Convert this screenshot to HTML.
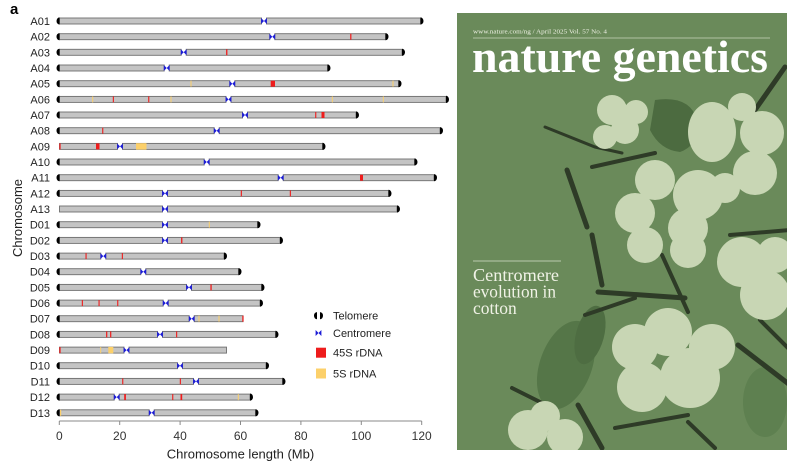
<!DOCTYPE html>
<html><head><meta charset="utf-8"><style>
html,body{margin:0;padding:0;background:#fff;}
svg{display:block;}
.lab{font-family:"Liberation Sans",sans-serif;font-size:11px;fill:#222;}
.tk{font-family:"Liberation Sans",sans-serif;font-size:12px;fill:#333;}
.b{fill:#c4c4c4;stroke:#6e6e6e;stroke-width:0.9;}
.r{fill:#ee1c1c;}
.y{fill:#fcd06a;}
.k{fill:#000;}
.c{fill:#1c1cd6;}
.serif{font-family:"Liberation Serif",serif;}
</style></head><body>
<svg width="800" height="470" viewBox="0 0 800 470" xmlns="http://www.w3.org/2000/svg">
<defs>
<path id="tl" d="M0,-3.6 A3,3.6 0 0 0 0,3.6 Z"/>
<path id="tr" d="M0,-3.6 A3,3.6 0 0 1 0,3.6 Z"/>
<path id="cen" d="M-2.9,-3 L0,0 L-2.9,3 Z M2.9,-3 L0,0 L2.9,3 Z"/>
</defs>
<rect width="800" height="470" fill="#fff"/>
<text x="10" y="14" style="font-family:'Liberation Sans',sans-serif;font-size:15px;font-weight:bold;fill:#000">a</text>
<text transform="translate(22,218) rotate(-90)" text-anchor="middle" style="font-family:'Liberation Sans',sans-serif;font-size:13px;fill:#222">Chromosome</text>

<!-- rows -->
<g transform="translate(0,21)"><text class="lab" x="50" y="4" text-anchor="end">A01</text>
<rect class="b" x="59.5" y="-3" width="202" height="6"/><rect class="b" x="266.5" y="-3" width="154" height="6"/>
<use href="#cen" x="264" class="c"/><use href="#tl" x="59.5" class="k"/><use href="#tr" x="420.5" class="k"/></g>

<g transform="translate(0,36.7)"><text class="lab" x="50" y="4" text-anchor="end">A02</text>
<rect class="b" x="59.5" y="-3" width="210.3" height="6"/><rect class="b" x="274.8" y="-3" width="110.7" height="6"/>
<rect class="r" x="350.2" y="-3" width="1.2" height="6"/>
<use href="#cen" x="272.3" class="c"/><use href="#tl" x="59.5" class="k"/><use href="#tr" x="385.5" class="k"/></g>

<g transform="translate(0,52.3)"><text class="lab" x="50" y="4" text-anchor="end">A03</text>
<rect class="b" x="59.5" y="-3" width="121.7" height="6"/><rect class="b" x="186.2" y="-3" width="215.8" height="6"/>
<rect class="r" x="226.1" y="-3" width="1.3" height="6"/>
<use href="#cen" x="183.7" class="c"/><use href="#tl" x="59.5" class="k"/><use href="#tr" x="402" class="k"/></g>

<g transform="translate(0,68)"><text class="lab" x="50" y="4" text-anchor="end">A04</text>
<rect class="b" x="59.5" y="-3" width="104.7" height="6"/><rect class="b" x="169.2" y="-3" width="158.3" height="6"/>
<use href="#cen" x="166.7" class="c"/><use href="#tl" x="59.5" class="k"/><use href="#tr" x="327.5" class="k"/></g>

<g transform="translate(0,83.7)"><text class="lab" x="50" y="4" text-anchor="end">A05</text>
<rect class="b" x="59.5" y="-3" width="170.3" height="6"/><rect class="b" x="234.8" y="-3" width="163.7" height="6"/>
<rect class="y" x="190.5" y="-3" width="1" height="6"/><rect class="r" x="270.7" y="-3" width="4.3" height="6"/><rect class="y" x="392.5" y="-3" width="1" height="6"/>
<use href="#cen" x="232.3" class="c"/><use href="#tl" x="59.5" class="k"/><use href="#tr" x="398.5" class="k"/></g>

<g transform="translate(0,99.4)"><text class="lab" x="50" y="4" text-anchor="end">A06</text>
<rect class="b" x="59.5" y="-3" width="166.5" height="6"/><rect class="b" x="231" y="-3" width="215" height="6"/>
<rect class="y" x="92.2" y="-3" width="1" height="6"/><rect class="r" x="112.8" y="-3" width="1.1" height="6"/><rect class="r" x="148.2" y="-3" width="1.1" height="6"/><rect class="y" x="170.5" y="-3" width="1" height="6"/><rect class="y" x="331.8" y="-3" width="1" height="6"/><rect class="y" x="382.8" y="-3" width="1" height="6"/>
<use href="#cen" x="228.5" class="c"/><use href="#tl" x="59.5" class="k"/><use href="#tr" x="446" class="k"/></g>

<g transform="translate(0,115)"><text class="lab" x="50" y="4" text-anchor="end">A07</text>
<rect class="b" x="59.5" y="-3" width="183" height="6"/><rect class="b" x="247.5" y="-3" width="108.5" height="6"/>
<rect class="r" x="315.2" y="-3" width="1.1" height="6"/><rect class="r" x="321.5" y="-3" width="3" height="6"/>
<use href="#cen" x="245" class="c"/><use href="#tl" x="59.5" class="k"/><use href="#tr" x="356" class="k"/></g>

<g transform="translate(0,130.7)"><text class="lab" x="50" y="4" text-anchor="end">A08</text>
<rect class="b" x="59.5" y="-3" width="154.7" height="6"/><rect class="b" x="219.2" y="-3" width="220.8" height="6"/>
<rect class="r" x="102.2" y="-3" width="1.1" height="6"/>
<use href="#cen" x="216.7" class="c"/><use href="#tl" x="59.5" class="k"/><use href="#tr" x="440" class="k"/></g>

<g transform="translate(0,146.4)"><text class="lab" x="50" y="4" text-anchor="end">A09</text>
<rect class="b" x="59.5" y="-3" width="58" height="6"/><rect class="b" x="122.5" y="-3" width="200" height="6"/>
<rect class="r" x="59.3" y="-3" width="1.3" height="6"/><rect class="r" x="96" y="-3" width="3.5" height="6"/><rect class="y" x="136" y="-3.2" width="10.5" height="6.4"/>
<use href="#cen" x="120" class="c"/><use href="#tr" x="322.5" class="k"/></g>

<g transform="translate(0,162)"><text class="lab" x="50" y="4" text-anchor="end">A10</text>
<rect class="b" x="59.5" y="-3" width="144.7" height="6"/><rect class="b" x="209.2" y="-3" width="205.3" height="6"/>
<use href="#cen" x="206.7" class="c"/><use href="#tl" x="59.5" class="k"/><use href="#tr" x="414.5" class="k"/></g>

<g transform="translate(0,177.7)"><text class="lab" x="50" y="4" text-anchor="end">A11</text>
<rect class="b" x="59.5" y="-3" width="218.7" height="6"/><rect class="b" x="283.2" y="-3" width="150.8" height="6"/>
<rect class="r" x="360" y="-3" width="3" height="6"/>
<use href="#cen" x="280.7" class="c"/><use href="#tl" x="59.5" class="k"/><use href="#tr" x="434" class="k"/></g>

<g transform="translate(0,193.4)"><text class="lab" x="50" y="4" text-anchor="end">A12</text>
<rect class="b" x="59.5" y="-3" width="103" height="6"/><rect class="b" x="167.5" y="-3" width="221" height="6"/>
<rect class="r" x="240.8" y="-3" width="1.1" height="6"/><rect class="r" x="289.8" y="-3" width="1.1" height="6"/>
<use href="#cen" x="165" class="c"/><use href="#tl" x="59.5" class="k"/><use href="#tr" x="388.5" class="k"/></g>

<g transform="translate(0,209)"><text class="lab" x="50" y="4" text-anchor="end">A13</text>
<rect class="b" x="59.5" y="-3" width="103" height="6"/><rect class="b" x="167.5" y="-3" width="229.5" height="6"/>
<use href="#cen" x="165" class="c"/><use href="#tr" x="397" class="k"/></g>

<g transform="translate(0,224.7)"><text class="lab" x="50" y="4" text-anchor="end">D01</text>
<rect class="b" x="59.5" y="-3" width="103" height="6"/><rect class="b" x="167.5" y="-3" width="90" height="6"/>
<rect class="y" x="208.8" y="-3" width="1" height="6"/>
<use href="#cen" x="165" class="c"/><use href="#tl" x="59.5" class="k"/><use href="#tr" x="257.5" class="k"/></g>

<g transform="translate(0,240.4)"><text class="lab" x="50" y="4" text-anchor="end">D02</text>
<rect class="b" x="59.5" y="-3" width="103" height="6"/><rect class="b" x="167.5" y="-3" width="112.5" height="6"/>
<rect class="r" x="181.1" y="-3" width="1.3" height="6"/>
<use href="#cen" x="165" class="c"/><use href="#tl" x="59.5" class="k"/><use href="#tr" x="280" class="k"/></g>

<g transform="translate(0,256.1)"><text class="lab" x="50" y="4" text-anchor="end">D03</text>
<rect class="b" x="59.5" y="-3" width="41.3" height="6"/><rect class="b" x="105.8" y="-3" width="118.2" height="6"/>
<rect class="r" x="85.5" y="-3" width="1.1" height="6"/><rect class="r" x="121.8" y="-3" width="1.1" height="6"/>
<use href="#cen" x="103.3" class="c"/><use href="#tl" x="59.5" class="k"/><use href="#tr" x="224" class="k"/></g>

<g transform="translate(0,271.7)"><text class="lab" x="50" y="4" text-anchor="end">D04</text>
<rect class="b" x="59.5" y="-3" width="81.3" height="6"/><rect class="b" x="145.8" y="-3" width="92.7" height="6"/>
<use href="#cen" x="143.3" class="c"/><use href="#tl" x="59.5" class="k"/><use href="#tr" x="238.5" class="k"/></g>

<g transform="translate(0,287.4)"><text class="lab" x="50" y="4" text-anchor="end">D05</text>
<rect class="b" x="59.5" y="-3" width="127" height="6"/><rect class="b" x="191.5" y="-3" width="70" height="6"/>
<rect class="r" x="210.4" y="-3" width="1.3" height="6"/>
<use href="#cen" x="189" class="c"/><use href="#tl" x="59.5" class="k"/><use href="#tr" x="261.5" class="k"/></g>

<g transform="translate(0,303.1)"><text class="lab" x="50" y="4" text-anchor="end">D06</text>
<rect class="b" x="59.5" y="-3" width="103.7" height="6"/><rect class="b" x="168.2" y="-3" width="91.8" height="6"/>
<rect class="r" x="81.8" y="-3" width="1.1" height="6"/><rect class="r" x="98.5" y="-3" width="1.1" height="6"/><rect class="r" x="117.2" y="-3" width="1.1" height="6"/>
<use href="#cen" x="165.7" class="c"/><use href="#tl" x="59.5" class="k"/><use href="#tr" x="260" class="k"/></g>

<g transform="translate(0,318.7)"><text class="lab" x="50" y="4" text-anchor="end">D07</text>
<rect class="b" x="59.5" y="-3" width="129.7" height="6"/><rect class="b" x="194.2" y="-3" width="48.8" height="6"/>
<rect class="y" x="198.5" y="-3" width="1" height="6"/><rect class="y" x="218.5" y="-3" width="1" height="6"/><rect class="r" x="242.3" y="-3" width="1.3" height="6"/>
<use href="#cen" x="191.7" class="c"/><use href="#tl" x="59.5" class="k"/></g>

<g transform="translate(0,334.4)"><text class="lab" x="50" y="4" text-anchor="end">D08</text>
<rect class="b" x="59.5" y="-3" width="98" height="6"/><rect class="b" x="162.5" y="-3" width="113" height="6"/>
<rect class="r" x="106.1" y="-3" width="1.2" height="6"/><rect class="r" x="110.1" y="-3" width="1.2" height="6"/><rect class="r" x="176.1" y="-3" width="1.1" height="6"/>
<use href="#cen" x="160" class="c"/><use href="#tl" x="59.5" class="k"/><use href="#tr" x="275.5" class="k"/></g>

<g transform="translate(0,350.1)"><text class="lab" x="50" y="4" text-anchor="end">D09</text>
<rect class="b" x="59.5" y="-3" width="64.5" height="6"/><rect class="b" x="129" y="-3" width="97.5" height="6"/>
<rect class="r" x="59.3" y="-3" width="1.3" height="6"/><rect class="y" x="100.2" y="-3" width="1" height="6"/><rect class="y" x="108.3" y="-3.2" width="5" height="6.4"/>
<use href="#cen" x="126.5" class="c"/></g>

<g transform="translate(0,365.7)"><text class="lab" x="50" y="4" text-anchor="end">D10</text>
<rect class="b" x="59.5" y="-3" width="118" height="6"/><rect class="b" x="182.5" y="-3" width="83.5" height="6"/>
<use href="#cen" x="180" class="c"/><use href="#tl" x="59.5" class="k"/><use href="#tr" x="266" class="k"/></g>

<g transform="translate(0,381.4)"><text class="lab" x="50" y="4" text-anchor="end">D11</text>
<rect class="b" x="59.5" y="-3" width="134" height="6"/><rect class="b" x="198.5" y="-3" width="84" height="6"/>
<rect class="r" x="122.2" y="-3" width="1.1" height="6"/><rect class="r" x="179.8" y="-3" width="1.1" height="6"/>
<use href="#cen" x="196" class="c"/><use href="#tl" x="59.5" class="k"/><use href="#tr" x="282.5" class="k"/></g>

<g transform="translate(0,397.1)"><text class="lab" x="50" y="4" text-anchor="end">D12</text>
<rect class="b" x="59.5" y="-3" width="54.7" height="6"/><rect class="b" x="119.2" y="-3" width="130.8" height="6"/>
<rect class="r" x="124.2" y="-3" width="1.7" height="6"/><rect class="r" x="172.2" y="-3" width="1.1" height="6"/><rect class="r" x="180.5" y="-3" width="1.7" height="6"/><rect class="y" x="237.8" y="-3" width="1" height="6"/>
<use href="#cen" x="116.7" class="c"/><use href="#tl" x="59.5" class="k"/><use href="#tr" x="250" class="k"/></g>

<g transform="translate(0,412.8)"><text class="lab" x="50" y="4" text-anchor="end">D13</text>
<rect class="b" x="59.5" y="-3" width="89.7" height="6"/><rect class="b" x="154.2" y="-3" width="101.3" height="6"/>
<rect class="y" x="60" y="-3" width="1.2" height="6"/>
<use href="#cen" x="151.7" class="c"/><use href="#tl" x="59.5" class="k"/><use href="#tr" x="255.5" class="k"/></g>

<!-- x axis -->
<g stroke="#8a8a8a" stroke-width="1">
<line x1="59.3" y1="421" x2="421.7" y2="421"/>
<line x1="59.3" y1="421" x2="59.3" y2="425"/>
<line x1="119.7" y1="421" x2="119.7" y2="425"/>
<line x1="180.1" y1="421" x2="180.1" y2="425"/>
<line x1="240.5" y1="421" x2="240.5" y2="425"/>
<line x1="300.9" y1="421" x2="300.9" y2="425"/>
<line x1="361.3" y1="421" x2="361.3" y2="425"/>
<line x1="421.7" y1="421" x2="421.7" y2="425"/>
</g>
<g class="tk" text-anchor="middle">
<text x="59.3" y="440">0</text><text x="119.7" y="440">20</text><text x="180.1" y="440">40</text><text x="240.5" y="440">60</text><text x="300.9" y="440">80</text><text x="361.3" y="440">100</text><text x="421.7" y="440">120</text>
</g>
<text x="240.5" y="458.5" text-anchor="middle" style="font-family:'Liberation Sans',sans-serif;font-size:13px;fill:#222">Chromosome length (Mb)</text>

<!-- legend -->
<g transform="translate(317,315.7)"><use href="#tl" x="0" class="k"/><use href="#tr" x="3" class="k"/></g>
<g transform="translate(318.5,333)"><use href="#cen" x="0" class="c"/></g>
<rect x="316" y="347.7" width="10" height="10" class="r"/>
<rect x="316" y="368.5" width="10" height="10" class="y"/>
<g class="lab">
<text x="333" y="319.5">Telomere</text>
<text x="333" y="337">Centromere</text>
<text x="333" y="356.5">45S rDNA</text>
<text x="333" y="377.5">5S rDNA</text>
</g>

<!-- cover -->
<clipPath id="cv"><rect x="457" y="13" width="330" height="437"/></clipPath>
<g clip-path="url(#cv)">
<rect x="457" y="13" width="330" height="437" fill="#6a8a5a"/>
<!-- leaves -->
<path d="M655,100 Q690,95 697,120 Q700,145 680,152 Q660,150 650,130 Z" fill="#4c6b40"/>
<ellipse cx="566" cy="365" rx="26" ry="46" transform="rotate(20 566 365)" fill="#557648"/>
<ellipse cx="590" cy="335" rx="14" ry="30" transform="rotate(15 590 335)" fill="#4e6d42"/>
<ellipse cx="765" cy="402" rx="22" ry="35" fill="#5e8050"/>
<ellipse cx="740" cy="268" rx="8" ry="22" transform="rotate(-20 740 268)" fill="#587a4a"/>
<!-- stems -->
<g stroke="#2e3b27" stroke-linecap="round" fill="none">
<path d="M545,127 L595,147 L622,153" stroke-width="3"/>
<path d="M592,167 L655,153" stroke-width="4"/>
<path d="M567,170 L587,227" stroke-width="5"/>
<path d="M785,67 L755,110" stroke-width="5"/>
<path d="M592,235 L602,285" stroke-width="5"/>
<path d="M598,292 L685,298" stroke-width="5"/>
<path d="M585,315 L635,298" stroke-width="4"/>
<path d="M662,255 L688,312" stroke-width="4"/>
<path d="M738,345 L790,385" stroke-width="5"/>
<path d="M615,428 L688,415" stroke-width="4"/>
<path d="M578,405 L602,448" stroke-width="5"/>
<path d="M512,388 L552,408" stroke-width="4"/>
<path d="M688,422 L715,448" stroke-width="4"/>
<path d="M730,235 L790,230" stroke-width="4"/>
<path d="M760,320 L790,350" stroke-width="4"/>
</g>
<!-- flowers -->
<g fill="#c8d6b4">
<circle cx="612" cy="110" r="15"/><circle cx="636" cy="112" r="12"/><circle cx="605" cy="137" r="12"/><circle cx="625" cy="130" r="14"/>
<ellipse cx="712" cy="132" rx="24" ry="30"/><circle cx="762" cy="133" r="22"/><circle cx="755" cy="173" r="22"/><circle cx="742" cy="107" r="14"/>
<circle cx="655" cy="180" r="20"/><circle cx="698" cy="195" r="25"/><circle cx="635" cy="213" r="20"/><circle cx="688" cy="228" r="20"/><circle cx="725" cy="188" r="15"/>
<circle cx="645" cy="245" r="18"/><circle cx="688" cy="250" r="18"/>
<circle cx="742" cy="262" r="25"/><circle cx="765" cy="295" r="25"/><circle cx="775" cy="255" r="18"/>
<circle cx="635" cy="347" r="23"/><circle cx="668" cy="332" r="24"/><circle cx="712" cy="347" r="23"/><circle cx="642" cy="387" r="25"/><circle cx="690" cy="378" r="30"/>
<circle cx="528" cy="430" r="20"/><circle cx="565" cy="437" r="18"/><circle cx="545" cy="416" r="15"/>
</g>
<!-- text -->
<text x="473" y="33.5" class="serif" style="font-size:6.3px;fill:#eef0e4" textLength="134" lengthAdjust="spacingAndGlyphs">www.nature.com/ng / April 2025 Vol. 57 No. 4</text>
<line x1="473" y1="38" x2="770" y2="38" stroke="#c9d3bc" stroke-width="0.8"/>
<text x="472" y="72" class="serif" style="font-size:45px;fill:#fff;font-weight:bold" textLength="296" lengthAdjust="spacingAndGlyphs">nature genetics</text>
<line x1="473" y1="261" x2="561" y2="261" stroke="#d7dfcc" stroke-width="0.8"/>
<g class="serif" style="font-size:17.5px;fill:#f0f2e6">
<text x="473" y="281" textLength="86" lengthAdjust="spacingAndGlyphs">Centromere</text>
<text x="473" y="297.5" textLength="83" lengthAdjust="spacingAndGlyphs">evolution in</text>
<text x="473" y="314">cotton</text>
</g>
</g>
</svg>
</body></html>
